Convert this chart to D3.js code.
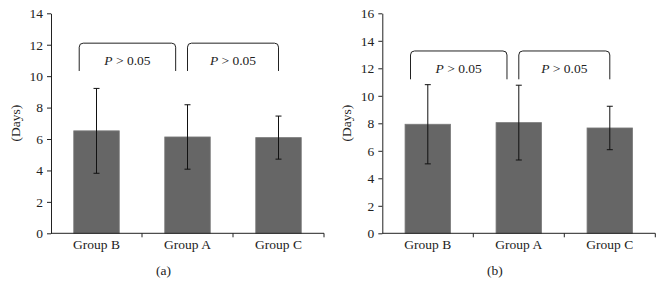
<!DOCTYPE html>
<html>
<head>
<meta charset="utf-8">
<script src="https://cdn.jsdelivr.net/npm/d3@7"></script>
<style>
  body { margin: 0; background: #fff; }
  svg { display: block; }
  text { font-family: "Liberation Serif", "Times New Roman", serif; fill: #222; }
</style>
</head>
<body>
<script>
var groups = ['Group B', 'Group A', 'Group C'];

// panel (a)
var meansA = [6.52, 6.13, 6.09];
var errA = [2.70, 2.05, 1.37];
var ticksA = [0, 2, 4, 6, 8, 10, 12, 14];

// panel (b)
var meansB = [7.93, 8.05, 7.66];
var errB = [2.88, 2.72, 1.58];
var ticksB = [0, 2, 4, 6, 8, 10, 12, 14, 16];

// brackets: [from, to] in category index units, top and bottom in data units
var bracketX = [[-0.19, 0.87], [1.0, 2.0]];
var bracketYA = [12.1, 10.33];
var bracketYB = [13.26, 11.2];
var pLabel = 'P > 0.05';

var width = 663, height = 297, fs = '13.5px';

var svg = d3.select('body').append('svg')
    .attr('width', width)
    .attr('height', height);

function panel(left, means, errs, ticks, bY, tag) {
    var axisW = 273, top = 13.3, bottom = 233.3;

    var g = svg.append('g').attr('transform', `translate(${left}, 0)`);

    var x = d3.scaleBand().domain(groups).range([0, axisW]);
    var y = d3.scaleLinear().domain([0, d3.max(ticks)]).range([bottom, top]);
    var bw = x.bandwidth();
    var cx = i => x(groups[0]) + bw / 2 + i * bw;

    // bars
    g.selectAll('rect.bar').data(means).enter().append('rect')
        .attr('x', (d, i) => x(groups[i]) + bw * 0.25)
        .attr('y', d => y(d))
        .attr('width', bw * 0.5)
        .attr('height', d => bottom - y(d))
        .attr('fill', '#666')
        .attr('stroke', '#7a7a7a')
        .attr('stroke-width', 0.8);

    // error bars
    var eb = g.selectAll('g.err').data(means).enter().append('g')
        .attr('stroke', '#111').attr('stroke-width', 1);
    eb.append('line')
        .attr('x1', (d, i) => cx(i)).attr('x2', (d, i) => cx(i))
        .attr('y1', (d, i) => y(d + errs[i])).attr('y2', (d, i) => y(d - errs[i]));
    eb.append('line')
        .attr('x1', (d, i) => cx(i) - 3).attr('x2', (d, i) => cx(i) + 3)
        .attr('y1', (d, i) => y(d + errs[i])).attr('y2', (d, i) => y(d + errs[i]));
    eb.append('line')
        .attr('x1', (d, i) => cx(i) - 3).attr('x2', (d, i) => cx(i) + 3)
        .attr('y1', (d, i) => y(d - errs[i])).attr('y2', (d, i) => y(d - errs[i]));

    // y axis
    var yAxis = d3.axisLeft(y).tickValues(ticks).tickSize(4).tickPadding(4).tickSizeOuter(0);
    var ya = g.append('g').call(yAxis);
    ya.selectAll('text').style('font-size', fs);
    ya.select('.domain').attr('stroke', '#222');
    ya.selectAll('.tick line').attr('stroke', '#222');

    // x axis with ticks at band edges
    var xa = g.append('g').attr('transform', `translate(0, ${bottom})`);
    xa.append('line').attr('x1', 0).attr('x2', axisW).attr('stroke', '#222');
    xa.selectAll('line.t').data(groups).enter().append('line')
        .attr('x1', d => x(d) + bw).attr('x2', d => x(d) + bw)
        .attr('y1', 0).attr('y2', 4).attr('stroke', '#222');
    xa.selectAll('text').data(groups).enter().append('text')
        .attr('x', d => x(d) + bw / 2)
        .attr('y', 16)
        .attr('text-anchor', 'middle')
        .style('font-size', fs)
        .text(d => d);

    // brackets
    bracketX.forEach(function (b) {
        var x0 = cx(b[0]), x1 = cx(b[1]), yt = y(bY[0]), yb = y(bY[1]), r = 4;
        g.append('path')
            .attr('d', `M${x0},${yb} L${x0},${yt + r} Q${x0},${yt} ${x0 + r},${yt} L${x1 - r},${yt} Q${x1},${yt} ${x1},${yt + r} L${x1},${yb}`)
            .attr('fill', 'none').attr('stroke', '#222').attr('stroke-width', 1);
        var t = g.append('text')
            .attr('x', (x0 + x1) / 2)
            .attr('y', (yt + yb) / 2 + 8)
            .attr('text-anchor', 'middle')
            .style('font-size', fs);
        t.append('tspan').style('font-style', 'italic').text(pLabel.slice(0, 1));
        t.append('tspan').text(pLabel.slice(1));
    });

    // y label
    g.append('text')
        .attr('transform', `translate(${-36}, ${123}) rotate(-90)`)
        .attr('text-anchor', 'middle')
        .attr('dy', '0.35em')
        .style('font-size', fs)
        .text('(Days)');

    // panel tag
    g.append('text')
        .attr('x', axisW / 2 - 24)
        .attr('y', 275)
        .attr('text-anchor', 'middle')
        .style('font-size', fs)
        .text(tag);
}

panel(51, meansA, errA, ticksA, bracketYA, '(a)');
panel(382.3, meansB, errB, ticksB, bracketYB, '(b)');
</script>
</body>
</html>
